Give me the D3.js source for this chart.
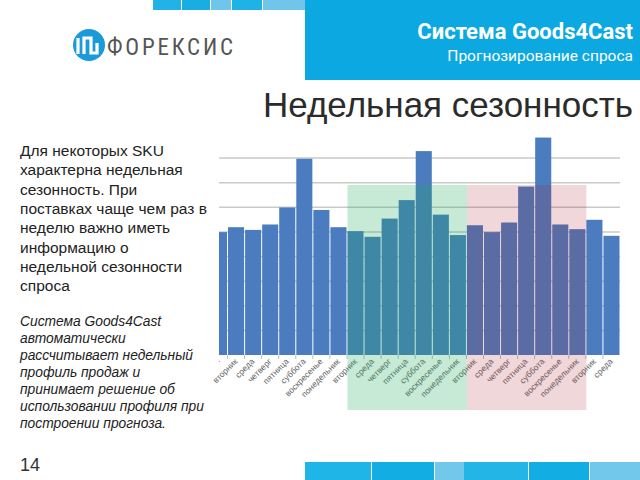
<!DOCTYPE html>
<html>
<head>
<meta charset="utf-8">
<script src="https://cdn.jsdelivr.net/npm/d3@7"></script>
<style>
  body { margin: 0; background: #fff; }
  svg { display: block; }
</style>
</head>
<body>
<svg width="640" height="480"></svg>
<script>
// day labels under the bars (first one is cut off in the source)
const days = ["·", "вторник", "среда", "четверг", "пятница", "суббота", "воскресенье", "понедельник",
  "вторник", "среда", "четверг", "пятница", "суббота", "воскресенье", "понедельник",
  "вторник", "среда", "четверг", "пятница", "суббота", "воскресенье", "понедельник",
  "вторник", "среда"];

// sales per day
const sales = [4.99, 5.19, 5.08, 5.30, 5.99, 7.97, 5.89, 5.19,
  5.03, 4.80, 5.54, 6.29, 8.28, 5.70, 4.87,
  5.27, 4.99, 5.38, 6.84, 8.83, 5.30, 5.11,
  5.49, 4.84];

// highlighted weeks (bar index ranges)
const weeks = [
  { from: 8, to: 15, fill: "rgba(27,172,90,0.25)" },
  { from: 15, to: 22, fill: "rgba(172,39,50,0.18)" }
];

const gridValues = [1, 2, 3, 4, 5, 6, 7, 8];

const bodyLines = ["Для некоторых SKU", "характерна недельная", "сезонность. При",
  "поставках чаще чем раз в", "неделю важно иметь", "информацию о",
  "недельной сезонности", "спроса"];
const noteLines = ["Система Goods4Cast", "автоматически", "рассчитывает недельный",
  "профиль продаж и", "принимает решение об", "использовании профиля при",
  "построении прогноза."];

const svg = d3.select("svg");

// ---- header decoration
const topSquares = [
  { x: 153, w: 28, c: "#22b3e6" }, { x: 182, w: 28, c: "#1aade2" },
  { x: 211, w: 20, c: "#6fc6ea" }, { x: 232, w: 30, c: "#1fb2e5" },
  { x: 263, w: 42, c: "#6fc6ea" }
];
svg.selectAll(".topsq").data(topSquares).join("rect")
  .attr("x", d => d.x).attr("y", 0).attr("width", d => d.w).attr("height", 10)
  .attr("fill", d => d.c);

svg.append("rect").attr("x", 305).attr("y", 0).attr("width", 335).attr("height", 80)
  .attr("fill", "#0ca8e2");

svg.append("text").attr("x", 633).attr("y", 39).attr("text-anchor", "end")
  .attr("font-family", "Roboto, 'Liberation Sans', sans-serif").attr("font-weight", "bold")
  .attr("font-size", "22px").attr("fill", "#fff").text("Система Goods4Cast");
svg.append("text").attr("x", 633).attr("y", 61).attr("text-anchor", "end")
  .attr("font-family", "Roboto, 'Liberation Sans', sans-serif")
  .attr("font-size", "15.5px").attr("fill", "#fff").text("Прогнозирование спроса");

// logo
const logo = svg.append("g").attr("transform", "translate(89,45)");
logo.append("circle").attr("r", 16).attr("fill", "#1a9ad8");
logo.append("path")
  .attr("d", "M-11,9 V-7 M-5,9 V-7 H2 V8 H8 V-2")
  .attr("fill", "none").attr("stroke", "#fff").attr("stroke-width", 3.2);
svg.append("text").attr("x", 107).attr("y", 55)
  .attr("font-family", "'Liberation Sans Narrow', 'Roboto Condensed', sans-serif")
  .attr("font-size", "23px").attr("fill", "#555").attr("textLength", 126)
  .text("ФОРЕКСИС");

// title
svg.append("text").attr("x", 633).attr("y", 117).attr("text-anchor", "end")
  .attr("font-family", "'Liberation Sans', Arial, sans-serif")
  .attr("font-size", "35px").attr("fill", "#2b2b2b").text("Недельная сезонность");

// ---- left text
svg.append("g").selectAll("text").data(bodyLines).join("text")
  .attr("x", 20).attr("y", (d, i) => 156 + i * 19.3)
  .attr("font-family", "'Liberation Sans', Arial, sans-serif")
  .attr("font-size", "15.5px").attr("fill", "#222").text(d => d);

svg.append("g").selectAll("text").data(noteLines).join("text")
  .attr("x", 20).attr("y", (d, i) => 326 + i * 17)
  .attr("font-family", "'Liberation Sans', Arial, sans-serif").attr("font-style", "italic")
  .attr("font-size", "13.8px").attr("fill", "#222").text(d => d);

svg.append("text").attr("x", 20).attr("y", 471)
  .attr("font-family", "'Liberation Sans', Arial, sans-serif")
  .attr("font-size", "18px").attr("fill", "#333").text("14");

// ---- chart
const left = 219, right = 620;
const x = d3.scaleLinear().domain([0.5, sales.length]).range([left, right]);
const y = d3.scaleLinear().domain([0, 8]).range([355, 158]);

svg.append("defs").append("clipPath").attr("id", "plot")
  .append("rect").attr("x", left).attr("y", 0).attr("width", right - left).attr("height", 480);

const chart = svg.append("g");

chart.selectAll(".grid").data(gridValues).join("line")
  .attr("x1", left).attr("x2", right)
  .attr("y1", d => y(d)).attr("y2", d => y(d))
  .attr("stroke", "#c9c9c9").attr("stroke-width", 1.5);

chart.append("g").attr("clip-path", "url(#plot)")
  .selectAll("rect").data(sales).join("rect")
  .attr("x", (d, i) => x(i) + 0.5)
  .attr("width", (d, i) => x(i + 1) - x(i) - 1)
  .attr("y", d => y(d))
  .attr("height", d => y(0) - y(d))
  .attr("fill", "#4a7cbf");

// ticks at bar boundaries
chart.selectAll(".tick").data(d3.range(1, sales.length)).join("line")
  .attr("x1", d => x(d)).attr("x2", d => x(d))
  .attr("y1", 355).attr("y2", 359)
  .attr("stroke", "#a9bfdc").attr("stroke-width", 1);

chart.selectAll(".lbl").data(days).join("text")
  .attr("transform", (d, i) => {
    const cx = Math.max(x(i + 0.5), left + 1) + 2;
    return `translate(${cx},362) rotate(-45)`;
  })
  .attr("text-anchor", "end")
  .attr("font-family", "'Liberation Sans', Arial, sans-serif")
  .attr("font-size", "8.5px").attr("fill", "#666").text(d => d);

// week highlights drawn over the bars
chart.selectAll(".week").data(weeks).join("rect")
  .attr("x", d => x(d.from) + 0.5)
  .attr("width", d => x(d.to) - x(d.from))
  .attr("y", 185).attr("height", 225)
  .attr("fill", d => d.fill);

// bottom decoration
const bottomSquares = [
  { x: 305, w: 66, c: "#1fb5e6" }, { x: 372, w: 62, c: "#12ade3" },
  { x: 435, w: 29, c: "#71c8ea" }, { x: 464, w: 64, c: "#22b5e6" },
  { x: 529, w: 60, c: "#12ade3" }, { x: 590, w: 50, c: "#71c8ea" }
];
svg.selectAll(".botsq").data(bottomSquares).join("rect")
  .attr("x", d => d.x).attr("y", 462).attr("width", d => d.w).attr("height", 18)
  .attr("fill", d => d.c);
</script>
</body>
</html>
